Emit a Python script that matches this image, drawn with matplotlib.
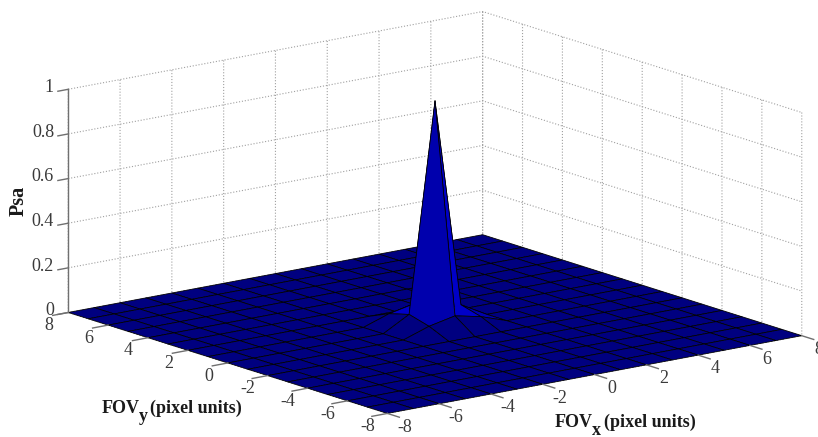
import numpy as np
from matplotlib import pyplot as plt

fov_x = [-8, -7, -6, -5, -4, -3, -2, -1, 0, 1, 2, 3, 4, 5, 6, 7, 8]
fov_y = [-8, -7, -6, -5, -4, -3, -2, -1, 0, 1, 2, 3, 4, 5, 6, 7, 8]
centre_psa = [[0.04, 0.065, 0.04],
              [0.065, 1.0, 0.065],
              [0.04, 0.065, 0.04]]
xy_ticks = [-8, -6, -4, -2, 0, 2, 4, 6, 8]
z_ticks = [0, 0.2, 0.4, 0.6, 0.8, 1]
z_labels = ['0', '0.2', '0.4', '0.6', '0.8', '1']

plt.rcParams['font.family'] = ['Liberation Serif', 'DejaVu Serif']
plt.rcParams['grid.linestyle'] = ':'
plt.rcParams['grid.color'] = '#a0a0a0'
plt.rcParams['grid.linewidth'] = 0.8

psa = np.zeros((len(fov_y), len(fov_x)))
psa[7:10, 7:10] = centre_psa
X, Y = np.meshgrid(fov_x, fov_y)

fig = plt.figure(figsize=(8.18, 4.37), dpi=100)
ax = fig.add_subplot(111, projection='3d', proj_type='ortho', computed_zorder=False)
ax.set_position([24.2 / 818, -186.3 / 437, 800 / 818, 800 / 437])
ax.view_init(elev=14.1, azim=-127.6)
ax.set_box_aspect((1, 1, 0.44), zoom=0.94)
ax.patch.set_alpha(0)

ax.set_xlim(-8, 8, view_margin=0)
ax.set_ylim(-8, 8, view_margin=0)
ax.set_zlim(0, 1, view_margin=0)
ax.set_xticks(xy_ticks)
ax.set_yticks(xy_ticks)
ax.set_zticks(z_ticks)
ax.set_xticklabels([])
ax.set_yticklabels([])
ax.set_zticklabels([])

for axis in [ax.xaxis, ax.yaxis, ax.zaxis]:
    axis.set_pane_color((1, 1, 1, 0))
    axis.pane.set_edgecolor((1, 1, 1, 0))
    axis.line.set_color((1, 1, 1, 0))
    axis._axinfo['tick']['inward_factor'] = 0
    axis._axinfo['tick']['outward_factor'] = 0
ax.tick_params(color=(1, 1, 1, 0))

# colour of a cell comes from its first corner, like matlab surf
colors = plt.cm.jet(psa[:-1, :-1])
ax.plot_surface(X, Y, psa, rstride=1, cstride=1, facecolors=colors, shade=False,
                edgecolor='black', linewidth=0.55, zorder=1)

tick_col = '#707070'
text_col = '#3a3a3a'
ax.plot([-8, -8], [8, 8], [0, 1], color=tick_col, lw=1, zorder=3)
for t in z_ticks:
    ax.plot([-8, -8.4], [8, 8], [t, t], color=tick_col, lw=1, zorder=3)
for t, lab in zip(z_ticks, z_labels):
    ax.text(-8.55, 8, t + 0.02, lab, ha='right', va='center', fontsize=13, color=text_col)
for t in xy_ticks:
    ax.plot([t, t], [-8, -8.6], [0, 0], color=tick_col, lw=1, zorder=3)
    ax.plot([-8, -8.6], [t, t], [0, 0], color=tick_col, lw=1, zorder=3)
    ax.text(t, -8.85, -0.038, str(t), ha='center', va='center', fontsize=13, color=text_col)
    ax.text(-8.75, t, -0.043, str(t), ha='center', va='center', fontsize=13, color=text_col)

def label_part(x, y, s, **kw):
    fig.text(x / 818, 1 - y / 437, s, fontsize=13, fontweight='bold', color='#1a1a1a',
             ha='left', va='baseline', **kw)

label_part(102, 413, 'FOV')
label_part(139, 421, 'y')
label_part(150, 413, '(pixel units)')
label_part(555, 427, 'FOV')
label_part(592, 435, 'x')
label_part(604, 427, '(pixel units)')
fig.text(19 / 818, 1 - 201 / 437, 'Psa', rotation=90, fontsize=14.5, fontweight='bold',
         color='#1a1a1a', ha='center', va='center')

fig.savefig('out.png', dpi=100)
